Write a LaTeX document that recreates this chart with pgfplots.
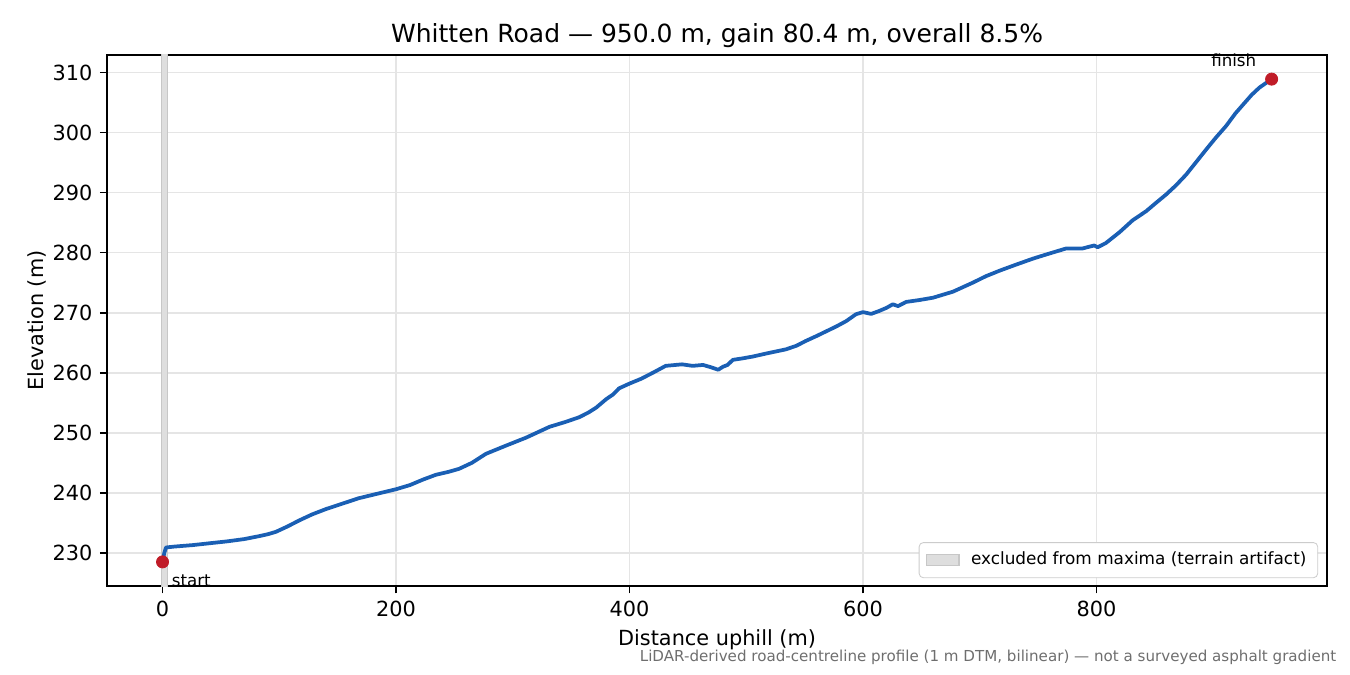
\documentclass[border=0pt]{standalone}
\usepackage{pgfplots}
\pgfplotsset{compat=1.18}
\usepackage{fontspec}
\setmainfont{DejaVu Sans}

\definecolor{lineblue}{RGB}{26,95,180}
\definecolor{dotred}{RGB}{192,28,40}
\definecolor{gridgray}{RGB}{229,229,229}
\definecolor{notegray}{RGB}{110,110,110}

\pgfplotsset{
  patch legend/.style={
    legend image code/.code={
      \draw[##1, sharp corners] (0pt,-2.7pt) rectangle (15.4pt,2.7pt);
    }
  }
}

\begin{document}
\begin{tikzpicture}
  \begin{axis}[
    name=ax,
    at={(0,0)}, anchor=south west,
    scale only axis,
    width=585.6pt, height=254.9pt,
    xmin=-47.5, xmax=997.5,
    ymin=224.48, ymax=312.92,
    xtick={0,200,400,600,800},
    ytick={230,240,250,260,270,280,290,300,310},
    xtick pos=lower, ytick pos=left,
    tick align=outside,
    major tick length=3.5pt,
    every tick/.style={black, line width=0.8pt},
    axis line style={black, line width=0.8pt},
    grid=major,
    major grid style={gridgray, line width=0.8pt},
    /pgf/number format/assume math mode=true,
    /pgf/number format/1000 sep={},
    ticklabel style={font=\fontsize{10}{12}\selectfont},
    clip mode=individual,
    title={Whitten Road — 950.0 m, gain 80.4 m, overall 8.5\%},
    every axis title/.style={at={(axis description cs:0.5,1)}, anchor=base,
      yshift=5.8pt, font=\fontsize{12}{14}\selectfont},
    xlabel={Distance uphill (m)},
    every axis x label/.style={at={(axis description cs:0.5,0)}, anchor=base,
      yshift=-28.4pt, font=\fontsize{10}{12}\selectfont},
    ylabel={Elevation (m)},
    every axis y label/.style={at={(axis description cs:-0.0522,0.5)}, anchor=base,
      rotate=90, font=\fontsize{10}{12}\selectfont},
    legend style={at={(axis description cs:1,0)}, anchor=south east,
      xshift=-4.3pt, yshift=3.8pt, draw=black!20, rounded corners=2pt,
      fill=white, font=\fontsize{8.1}{10}\selectfont, inner xsep=3.4pt,
      inner ysep=2.6pt, legend cell align=left,
      /tikz/every odd column/.append style={column sep=3.5pt}},
  ]
    % excluded span near the start
    \addplot[fill=black!13, draw=black!22, line width=0.6pt, patch legend]
      coordinates {(-1,200) (4.5,200) (4.5,400) (-1,400)} -- cycle;
    \addlegendentry{excluded from maxima (terrain artifact)}

    % elevation profile
    \addplot[lineblue, line width=1.8pt, line join=round, forget plot] table {
      x     y
      0     228.5
      1.5   230.0
      3     230.9
      10    231.05
      26    231.3
      40    231.6
      54.5  231.9
      70    232.3
      83    232.8
      90    233.1
      97    233.5
      107   234.4
      117   235.4
      128   236.4
      140   237.3
      154   238.2
      168   239.1
      185   239.9
      200   240.6
      212   241.3
      223   242.2
      234   243.0
      245   243.5
      254   244.0
      265   245.0
      277   246.5
      294   247.85
      311.5 249.2
      331.5 251.0
      345   251.8
      357   252.6
      365   253.4
      371.5 254.2
      380   255.6
      386   256.4
      391   257.4
      400   258.2
      410   259.0
      420   260.0
      431   261.15
      445   261.4
      454   261.15
      463   261.3
      470   260.9
      476   260.5
      480   261.0
      484   261.3
      488.5 262.15
      497   262.4
      505.6 262.7
      517   263.2
      534   263.9
      543   264.5
      551   265.3
      560   266.1
      568.5 266.9
      577   267.7
      585.6 268.6
      594   269.75
      600   270.1
      607   269.8
      614   270.3
      620   270.8
      625.5 271.4
      630   271.1
      637   271.8
      648   272.1
      660   272.5
      677   273.5
      694   275.0
      705.5 276.1
      717   277.0
      731   278.0
      745.5 279.0
      757   279.7
      774   280.7
      788   280.7
      798   281.2
      801   280.9
      808   281.6
      819.7 283.4
      831   285.4
      842.5 286.9
      851   288.3
      859.7 289.7
      868   291.2
      876.8 293.0
      885   295.0
      894   297.2
      902   299.1
      911   301.1
      919   303.2
      928   305.2
      933   306.3
      939.6 307.5
      950   308.9
    };

    % start and finish
    \addplot[only marks, mark=*, mark size=2.9pt, dotred, forget plot]
      coordinates {(0,228.5) (950,308.9)};
    \node[anchor=base west, inner sep=0pt, xshift=4.3pt, yshift=-12pt,
      font=\fontsize{8}{10}\selectfont] at (axis cs:0,228.5) {start};
    \node[anchor=base east, inner sep=0pt, xshift=-7.2pt, yshift=6.2pt,
      font=\fontsize{8}{10}\selectfont] at (axis cs:950,308.9) {finish};
  \end{axis}
  \node[anchor=base east, inner sep=0pt, text=notegray,
    font=\fontsize{7.25}{8.7}\selectfont] at (590.2pt,-36.4pt)
    {LiDAR-derived road-centreline profile (1 m DTM, bilinear) — not a surveyed asphalt gradient};
  \useasboundingbox (-51.4pt,-42.7pt) rectangle (596.6pt,281.3pt);
\end{tikzpicture}
\end{document}
